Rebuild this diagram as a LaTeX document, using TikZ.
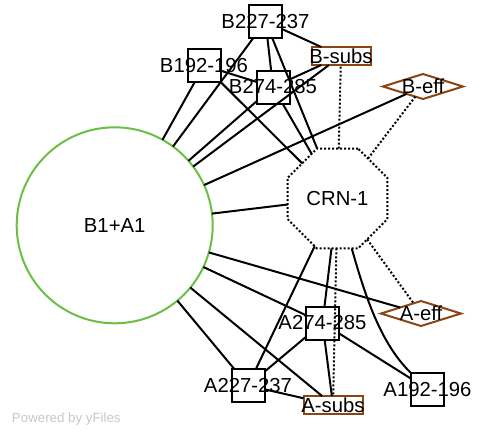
\documentclass[tikz,border=0pt]{standalone}
\usepackage{fontspec}
\setmainfont{Liberation Sans}
\usetikzlibrary{shapes.geometric}
\definecolor{ybrown}{RGB}{139,69,19}
\definecolor{ygreen}{RGB}{108,190,69}
\definecolor{ygray}{RGB}{200,200,200}
\tikzset{
  every node/.style={inner sep=0pt, outer sep=0pt},
  boxnode/.style={draw=black, fill=white, line width=2pt, minimum width=33pt, minimum height=33pt},
  subsnode/.style={draw=ybrown, fill=white, line width=2pt, minimum width=59pt, minimum height=18pt},
  effnode/.style={diamond, draw=ybrown, fill=white, line width=2pt, minimum width=80pt, minimum height=25pt},
  bignode/.style={circle, draw=ygreen, fill=white, line width=2pt, minimum size=196pt},
  crnnode/.style={regular polygon, regular polygon sides=8, draw=black, fill=white, line width=2pt, dash pattern=on 2pt off 2pt, minimum size=108pt},
  lbl/.style={font=\fontsize{20.3}{24}\selectfont, text=black},
  edge/.style={draw=black, line width=2pt},
  dotedge/.style={draw=black, line width=2pt, dash pattern=on 2pt off 2pt},
}
\begin{document}
\begin{tikzpicture}[x=1pt, y=-1pt]
\useasboundingbox (0,0) rectangle (486,432);
% shapes
\node[bignode] (c) at (114.7,225.3) {};
\node[crnnode] (crn) at (337.5,198.5) {};
\node[boxnode] (b227) at (265.5,21.5) {};
\node[boxnode] (b192) at (204,65.5) {};
\node[boxnode] (b274) at (273,87) {};
\node[subsnode] (bsubs) at (341,56) {};
\node[effnode] (beff) at (423,86.5) {};
\node[effnode] (aeff) at (421,313.5) {};
\node[boxnode] (a274) at (322.5,323) {};
\node[boxnode] (a227) at (248,385.5) {};
\node[subsnode] (asubs) at (333,405) {};
\node[boxnode] (a192) at (427.5,389) {};
% edges from big circle
\draw[edge] (c) -- (b192);
\draw[edge] (c) -- (b227);
\draw[edge] (c) -- (b274);
\draw[edge] (c) -- (bsubs);
\draw[edge] (c) -- (beff);
\draw[edge] (c) -- (crn);
\draw[edge] (c) -- (aeff);
\draw[edge] (c) -- (a274);
\draw[edge] (c) -- (asubs);
\draw[edge] (c) -- (a227);
% edges from CRN-1
\draw[edge] (crn) -- (b227);
\draw[edge] (crn) -- (b192);
\draw[edge] (crn) -- (b274);
\draw[dotedge] (crn) -- (bsubs);
\draw[dotedge] (crn) -- (beff);
\draw[dotedge] (crn) -- (aeff);
\draw[dotedge] (crn) -- (asubs);
\draw[edge] (crn) -- (a274);
\draw[edge] (crn) -- (a227);
\draw[edge] (crn) .. controls (365,295) and (380,343) .. (a192);
% other edges
\draw[edge] (b227) -- (bsubs);
\draw[edge] (b227) -- (b274);
\draw[edge] (b192) -- (b274);
\draw[edge] (bsubs) -- (b274);
\draw[edge] (a274) -- (a227);
\draw[edge] (a274) -- (asubs);
\draw[edge] (a274) -- (a192);
\draw[edge] (a227) -- (asubs);
% labels
\node[lbl] at (c) {B1+A1};
\node[lbl] at (crn) {CRN-1};
\node[lbl] at (b227) {B227-237};
\node[lbl] at (b192) {B192-196};
\node[lbl] at (b274) {B274-285};
\node[lbl] at (bsubs) {B-subs};
\node[lbl] at (beff) {B-eff};
\node[lbl] at (aeff) {A-eff};
\node[lbl] at (a274) {A274-285};
\node[lbl] at (a227) {A227-237};
\node[lbl] at (asubs) {A-subs};
\node[lbl] at (a192) {A192-196};
\node[anchor=west, text=ygray, font=\fontsize{13.3}{16}\selectfont] (yf) at (12,419) {Powered by yFiles};
\end{tikzpicture}
\end{document}
